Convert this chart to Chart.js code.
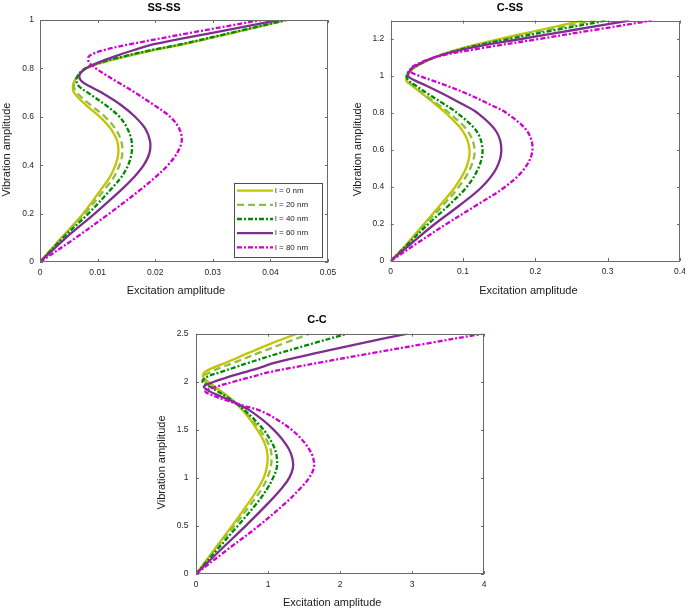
<!DOCTYPE html>
<html>
<head>
<meta charset="utf-8">
<script src="https://cdn.jsdelivr.net/npm/chart.js@4.4.1/dist/chart.umd.min.js"></script>
<style>
  body { margin: 0; background: #fff; width: 685px; height: 610px; position: relative; overflow: hidden; }
  canvas { position: absolute; }
</style>
</head>
<body>
<canvas id="ss" width="340" height="300" style="left:0;top:0"></canvas>
<canvas id="cs" width="345" height="300" style="left:340px;top:0"></canvas>
<canvas id="cc" width="345" height="305" style="left:150px;top:305px"></canvas>
<script>
// --- DATA ---
const seriesLabels = ['l = 0 nm', 'l = 20 nm', 'l = 40 nm', 'l = 60 nm', 'l = 80 nm'];

// SS-SS: vibration amplitude grid and excitation amplitude per series
const ssY   = [0, 0.1, 0.2, 0.3, 0.35, 0.4, 0.45, 0.5, 0.55, 0.6, 0.65, 0.7, 0.725, 0.75, 0.775, 0.8, 0.825, 0.85, 0.875, 0.9, 0.95, 1];
const ssL0  = [0, 0.0037, 0.0075, 0.0106, 0.0121, 0.0131, 0.0136, 0.0134, 0.0123, 0.0104, 0.0079, 0.0059, 0.0057, 0.0060, 0.0068, 0.0080, 0.0110, 0.0150, 0.0196, 0.0250, 0.0340, 0.0428];
const ssL20 = [0, 0.0038, 0.0078, 0.0112, 0.0128, 0.0138, 0.0143, 0.0141, 0.0131, 0.0113, 0.0087, 0.0064, 0.0059, 0.0061, 0.0068, 0.0079, 0.0108, 0.0148, 0.0194, 0.0248, 0.0339, 0.0428];
const ssL40 = [0, 0.0040, 0.0084, 0.0123, 0.0141, 0.0153, 0.0159, 0.0159, 0.0152, 0.0138, 0.0113, 0.0083, 0.0068, 0.0063, 0.0067, 0.0078, 0.0106, 0.0146, 0.0192, 0.0245, 0.0337, 0.0428];
const ssL60 = [0, 0.0045, 0.0095, 0.0142, 0.0163, 0.0180, 0.0190, 0.0191, 0.0183, 0.0165, 0.0140, 0.0107, 0.0087, 0.0071, 0.0069, 0.0080, 0.0102, 0.0130, 0.0162, 0.0198, 0.0306, 0.0414];
const ssL80 = [0, 0.0062, 0.0120, 0.0175, 0.0200, 0.0222, 0.0238, 0.0246, 0.0242, 0.0226, 0.0197, 0.0165, 0.0148, 0.0130, 0.0113, 0.0097, 0.0085, 0.0085, 0.0110, 0.0157, 0.0268, 0.0384];
const ssXTicks = [0, 0.01, 0.02, 0.03, 0.04, 0.05];
const ssYTicks = [0, 0.2, 0.4, 0.6, 0.8, 1];

// C-SS
const csY   = [0, 0.1, 0.2, 0.3, 0.4, 0.5, 0.6, 0.7, 0.8, 0.85, 0.9, 0.95, 0.975, 1.0, 1.025, 1.05, 1.1, 1.15, 1.2, 1.25, 1.3];
const csL0  = [0, 0.024, 0.046, 0.068, 0.089, 0.104, 0.109, 0.100, 0.076, 0.061, 0.045, 0.029, 0.0215, 0.0225, 0.027, 0.035, 0.060, 0.098, 0.150, 0.208, 0.266];
const csL20 = [0, 0.025, 0.048, 0.072, 0.094, 0.110, 0.116, 0.107, 0.081, 0.064, 0.047, 0.030, 0.023, 0.022, 0.026, 0.034, 0.060, 0.100, 0.156, 0.218, 0.282];
const csL40 = [0, 0.026, 0.052, 0.080, 0.105, 0.121, 0.127, 0.119, 0.092, 0.073, 0.053, 0.034, 0.025, 0.022, 0.025, 0.033, 0.060, 0.103, 0.163, 0.230, 0.299];
const csL60 = [0, 0.030, 0.061, 0.095, 0.126, 0.146, 0.153, 0.146, 0.120, 0.098, 0.074, 0.048, 0.034, 0.024, 0.026, 0.032, 0.060, 0.108, 0.180, 0.255, 0.330];
const csL80 = [0, 0.038, 0.077, 0.118, 0.158, 0.185, 0.196, 0.189, 0.160, 0.135, 0.108, 0.076, 0.058, 0.040, 0.027, 0.030, 0.060, 0.125, 0.205, 0.283, 0.361];
const csXTicks = [0, 0.1, 0.2, 0.3, 0.4];
const csYTicks = [0, 0.2, 0.4, 0.6, 0.8, 1, 1.2];

// C-C
const ccY   = [0, 0.25, 0.5, 0.75, 0.9, 1.0, 1.1, 1.2, 1.3, 1.4, 1.5, 1.6, 1.7, 1.75, 1.8, 1.85, 1.9, 1.95, 2.0, 2.05, 2.1, 2.15, 2.2, 2.3, 2.4, 2.5];
const ccL0  = [0, 0.25, 0.50, 0.74, 0.87, 0.94, 0.98, 0.995, 0.98, 0.93, 0.85, 0.76, 0.65, 0.59, 0.52, 0.44, 0.35, 0.26, 0.17, 0.10, 0.12, 0.25, 0.42, 0.73, 1.05, 1.40];
const ccL20 = [0, 0.265, 0.53, 0.785, 0.925, 0.99, 1.035, 1.05, 1.035, 0.975, 0.89, 0.785, 0.665, 0.595, 0.515, 0.425, 0.33, 0.23, 0.13, 0.09, 0.20, 0.35, 0.53, 0.87, 1.22, 1.58];
const ccL40 = [0, 0.29, 0.58, 0.86, 1.00, 1.07, 1.12, 1.125, 1.095, 1.03, 0.94, 0.82, 0.68, 0.60, 0.51, 0.41, 0.30, 0.19, 0.09, 0.15, 0.34, 0.54, 0.74, 1.17, 1.63, 2.10];
const ccL60 = [0, 0.34, 0.69, 1.02, 1.20, 1.295, 1.345, 1.34, 1.29, 1.20, 1.08, 0.93, 0.75, 0.63, 0.49, 0.34, 0.19, 0.11, 0.25, 0.45, 0.68, 0.90, 1.10, 1.68, 2.29, 2.94];
const ccL80 = [0, 0.43, 0.87, 1.26, 1.46, 1.57, 1.635, 1.63, 1.57, 1.47, 1.33, 1.14, 0.89, 0.66, 0.45, 0.26, 0.13, 0.29, 0.52, 0.77, 1.02, 1.36, 1.72, 2.46, 3.22, 3.99];
const ccXTicks = [0, 1, 2, 3, 4];
const ccYTicks = [0, 0.5, 1, 1.5, 2, 2.5];

// --- STYLE ---
const lineColors = ['#c6c300', '#8cbf45', '#008a00', '#7e2f8e', '#d200d2'];
const lineDashes = [[], [7, 4], [5, 2, 2, 2], [], [5, 2, 2, 2]];
const FONT = '"Liberation Sans", Arial, sans-serif';
Chart.defaults.font.family = FONT;
Chart.defaults.color = '#262626';

function buildSets(yVals, seriesList) {
    return seriesList.map((xs, i) => ({
        label: seriesLabels[i],
        data: xs.map((x, k) => ({ x: x, y: yVals[k] })),
        borderColor: lineColors[i],
        borderDash: lineDashes[i],
        borderWidth: 2.3,
        pointRadius: 0,
        showLine: true,
        tension: 0.35,
        order: 5 - i
    }));
}

// box around the plot area with inward tick marks on all four sides
const framePlugin = {
    id: 'frame',
    afterDraw(chart) {
        const { ctx, chartArea: a, scales: { x, y } } = chart;
        ctx.save();
        ctx.strokeStyle = '#6a6a6a';
        ctx.lineWidth = 1;
        ctx.strokeRect(Math.round(a.left) + 0.5, Math.round(a.top) + 0.5, Math.round(a.width) - 1, Math.round(a.height) - 1);
        ctx.beginPath();
        x.ticks.forEach(t => {
            const px = Math.round(x.getPixelForValue(t.value)) + 0.5;
            ctx.moveTo(px, a.bottom); ctx.lineTo(px, a.bottom - 3);
            ctx.moveTo(px, a.top); ctx.lineTo(px, a.top + 3);
        });
        y.ticks.forEach(t => {
            const py = Math.round(y.getPixelForValue(t.value)) + 0.5;
            ctx.moveTo(a.left, py); ctx.lineTo(a.left + 3, py);
            ctx.moveTo(a.right, py); ctx.lineTo(a.right - 3, py);
        });
        ctx.stroke();
        ctx.restore();
    }
};

// axis titles, placed like the reference (slightly off the axis centre)
function axisTitles(p) {
    return {
        id: 'axisTitles',
        afterDraw(chart) {
            const { ctx, chartArea: a } = chart;
            ctx.save();
            ctx.font = '11px ' + FONT;
            ctx.fillStyle = '#1a1a1a';
            ctx.textAlign = 'center';
            ctx.textBaseline = 'middle';
            ctx.fillText('Excitation amplitude', (a.left + a.right) / 2 + p.xShift, p.xPos);
            ctx.translate(p.yPos, (a.top + a.bottom) / 2 + p.yShift);
            ctx.rotate(-Math.PI / 2);
            ctx.fillText('Vibration amplitude', 0, 0);
            ctx.restore();
        }
    };
}

// legend box in the lower right corner of the plot area
const legendBoxPlugin = {
    id: 'legendBox',
    afterDatasetsDraw(chart) {
        const { ctx, chartArea: a } = chart;
        const w = 88, h = 74;
        const left = Math.round(a.right - 6 - w), top = Math.round(a.bottom - 5 - h);
        ctx.save();
        ctx.fillStyle = '#fff';
        ctx.fillRect(left, top, w, h);
        ctx.strokeStyle = '#4d4d4d';
        ctx.lineWidth = 1;
        ctx.strokeRect(left + 0.5, top + 0.5, w, h);
        ctx.font = '8px ' + FONT;
        ctx.textBaseline = 'middle';
        chart.data.datasets.forEach((ds, i) => {
            const yy = top + 7.7 + i * 14.15;
            ctx.strokeStyle = ds.borderColor;
            ctx.lineWidth = ds.borderWidth;
            ctx.setLineDash(ds.borderDash);
            ctx.beginPath();
            ctx.moveTo(left + 3, yy);
            ctx.lineTo(left + 39, yy);
            ctx.stroke();
            ctx.setLineDash([]);
            ctx.fillStyle = '#222';
            ctx.fillText(ds.label, left + 41, yy);
        });
        ctx.restore();
    }
};

function axisOpts(min, max, tickVals, size, pad, horizontal) {
    return {
        type: 'linear',
        min: min,
        max: max,
        grid: { display: false, drawTicks: false },
        border: { display: false },
        ticks: { font: { size: 8.5 }, padding: pad, autoSkip: false, maxRotation: 0, callback: v => String(v) },
        afterBuildTicks: s => { s.ticks = tickVals.map(v => ({ value: v })); },
        afterFit: s => {
            if (horizontal) s.height = size; else s.width = size;
            s.paddingLeft = 0; s.paddingRight = 0; s.paddingTop = 0; s.paddingBottom = 0;
        }
    };
}

function makeChart(id, cfg) {
    return new Chart(document.getElementById(id), {
        type: 'scatter',
        data: { datasets: cfg.sets },
        options: {
            responsive: false,
            animation: false,
            events: [],
            layout: { padding: { left: 0, right: cfg.padRight, top: 0, bottom: 0 } },
            plugins: {
                legend: { display: false },
                tooltip: { enabled: false },
                title: {
                    display: true,
                    text: cfg.title,
                    color: '#000',
                    font: { size: 11, weight: 'bold' },
                    padding: cfg.titlePad
                }
            },
            scales: {
                x: axisOpts(cfg.xMin, cfg.xMax, cfg.xTicks, cfg.xSize, 6, true),
                y: axisOpts(cfg.yMin, cfg.yMax, cfg.yTicks, cfg.ySize, cfg.yPad, false)
            }
        },
        plugins: cfg.plugins
    });
}

makeChart('ss', {
    title: 'SS-SS',
    sets: buildSets(ssY, [ssL0, ssL20, ssL40, ssL60, ssL80]),
    xMin: 0, xMax: 0.05, xTicks: ssXTicks,
    yMin: 0, yMax: 1, yTicks: ssYTicks,
    xSize: 38, ySize: 40, yPad: 6, padRight: 12,
    titlePad: { top: 1, bottom: 5.8 },
    plugins: [framePlugin, legendBoxPlugin, axisTitles({ xPos: 290.7, xShift: -8, yPos: 7.3, yShift: 8.6 })]
});

makeChart('cs', {
    title: 'C-SS',
    sets: buildSets(csY, [csL0, csL20, csL40, csL60, csL80]),
    xMin: 0, xMax: 0.4, xTicks: csXTicks,
    yMin: 0, yMax: 1.3, yTicks: csYTicks,
    xSize: 39, ySize: 50.7, yPad: 6.5, padRight: 5,
    titlePad: { top: 1, bottom: 6.3 },
    plugins: [framePlugin, axisTitles({ xPos: 290.7, xShift: -7, yPos: 18.3, yShift: 8.5 })]
});

makeChart('cc', {
    title: 'C-C',
    sets: buildSets(ccY, [ccL0, ccL20, ccL40, ccL60, ccL80]),
    xMin: 0, xMax: 4, xTicks: ccXTicks,
    yMin: 0, yMax: 2.5, yTicks: ccYTicks,
    xSize: 36, ySize: 46, yPad: 7.5, padRight: 11,
    titlePad: { top: 8.4, bottom: 7.1 },
    plugins: [framePlugin, axisTitles({ xPos: 297.7, xShift: -7.8, yPos: 11.7, yShift: 8.6 })]
});
</script>
</body>
</html>
